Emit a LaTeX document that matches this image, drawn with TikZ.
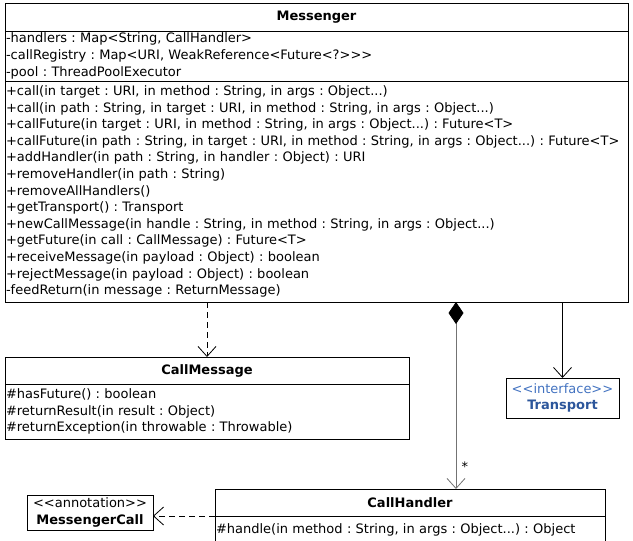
\documentclass[tikz,border=0pt]{standalone}
\usepackage{fontspec}
\setmainfont{DejaVu Sans}[Ligatures=TeXOff]
\usetikzlibrary{shapes.geometric, arrows.meta, positioning}
\newcommand{\umlfont}{\fontsize{13}{16.6}\selectfont\frenchspacing\hyphenpenalty=10000}
\definecolor{ifdark}{RGB}{44,86,155}
\definecolor{iflight}{RGB}{66,114,192}
\tikzstyle{head} = [rectangle, draw=black, line width=1pt, outer sep=0pt, inner sep=0pt, font=\umlfont\bfseries]
\tikzstyle{part} = [rectangle, draw=black, line width=1pt, outer sep=0pt, inner xsep=1pt, inner ysep=0pt, align=left, font=\umlfont]
\tikzstyle{tag} = [rectangle, draw=black, line width=1pt, outer sep=0pt, inner sep=0pt, align=center, font=\umlfont]
\tikzstyle{dep} = [line width=0.8pt, dash pattern=on 6pt off 4pt, -{Straight Barb[length=10pt,width=18pt]}]
\tikzstyle{assoc} = [line width=0.8pt, -{Straight Barb[length=10pt,width=18pt]}]
\tikzstyle{comp} = [line width=0.8pt, draw=black!55, {Diamond[color=black,length=22pt,width=15pt]}-{Straight Barb[length=10pt,width=18pt]}]
\begin{document}
\begin{tikzpicture}[x=1pt, y=-1pt]
        \useasboundingbox (0,0) rectangle (633,541);

        \node (m1) [head, anchor=north west, minimum width=623pt, minimum height=28pt] at (5,3) {Messenger};
        \node (m2) [part, below=0pt of m1, text width=621pt, minimum height=50pt] {-handlers : Map<String, CallHandler>\\-callRegistry : Map<URI, WeakReference<Future<?>>>\\-pool : ThreadPoolExecutor};
        \node (m3) [part, below=0pt of m2, text width=621pt, minimum height=221pt] {+call(in target : URI, in method : String, in args : Object...)\\+call(in path : String, in target : URI, in method : String, in args : Object...)\\+callFuture(in target : URI, in method : String, in args : Object...) : Future<T>\\+callFuture(in path : String, in target : URI, in method : String, in args : Object...) : Future<T>\\+addHandler(in path : String, in handler : Object) : URI\\+removeHandler(in path : String)\\+removeAllHandlers()\\+getTransport() : Transport\\+newCallMessage(in handle : String, in method : String, in args : Object...)\\+getFuture(in call : CallMessage) : Future<T>\\+receiveMessage(in payload : Object) : boolean\\+rejectMessage(in payload : Object) : boolean\\-feedReturn(in message : ReturnMessage)};

        \node (c1) [head, anchor=north west, minimum width=404pt, minimum height=27pt] at (5,357) {CallMessage};
        \node (c2) [part, below=0pt of c1, text width=402pt, minimum height=55pt] {\#hasFuture() : boolean\\\#returnResult(in result : Object)\\\#returnException(in throwable : Throwable)};

        \node (t1) [tag, anchor=north west, minimum width=113pt, minimum height=40pt] at (506,378) {\textcolor{iflight}{<<interface>>}\\\textcolor{ifdark}{\bfseries Transport}};

        \node (h1) [head, anchor=north west, minimum width=390pt, minimum height=27pt] at (215,489) {CallHandler};
        \node (h2) [part, below=0pt of h1, text width=388pt, minimum height=28pt] {\#handle(in method : String, in args : Object...) : Object};

        \node (a1) [tag, anchor=north west, minimum width=126pt, minimum height=35pt] at (27,495) {<<annotation>>\\\textbf{MessengerCall}};

        \draw [dep] (c1.north |- m3.south) -- (c1.north);
        \coordinate (own) at ([xshift=46pt]h1.north);
        \draw [comp] (own |- m3.south) -- node[pos=0.88, right=2pt, font=\umlfont] {*} (own);
        \draw [assoc] (t1.north |- m3.south) -- (t1.north);
        \draw [dep] (h1.south west) -- (h1.south west -| a1.east);
\end{tikzpicture}
\end{document}
